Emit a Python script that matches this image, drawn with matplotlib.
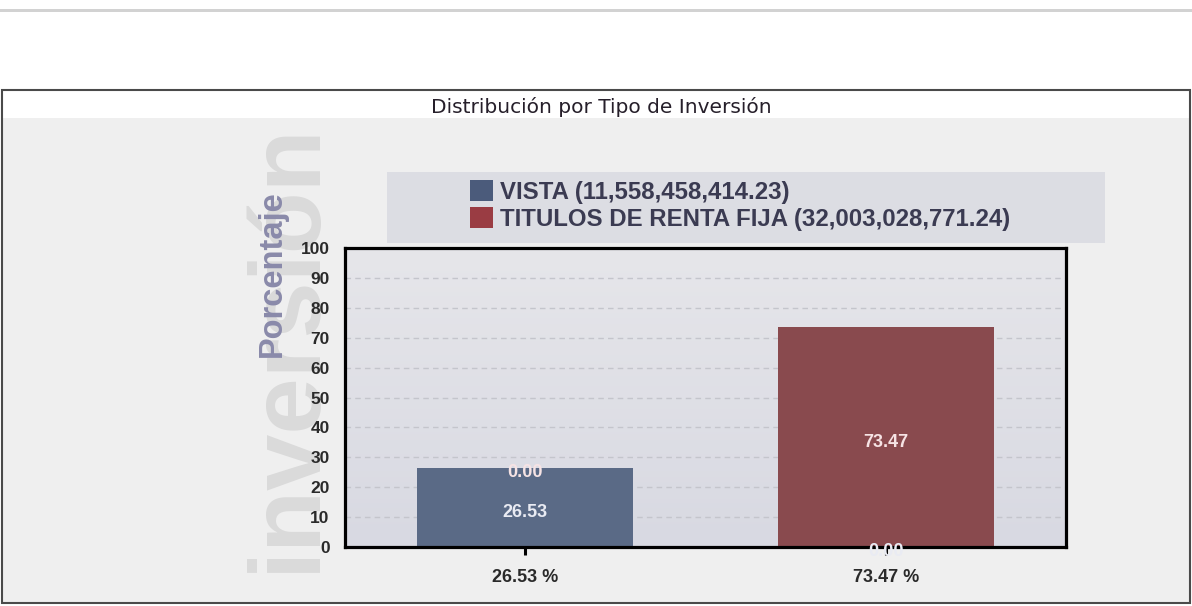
import numpy as np
import matplotlib
matplotlib.use("Agg")
import matplotlib.pyplot as plt
from matplotlib.colors import LinearSegmentedColormap
from matplotlib.patches import Rectangle

# Datos del gráfico
titulo = "Distribución por Tipo de Inversión"
categorias = ["26.53 %", "73.47 %"]
series = ["VISTA (11,558,458,414.23)", "TITULOS DE RENTA FIJA (32,003,028,771.24)"]
vista = [26.53, 0.0]
renta_fija = [0.0, 73.47]
yticks = list(range(0, 101, 10))

# Colores
COLOR_VISTA = "#5a6a86"
COLOR_RENTA = "#894a4e"
LEYENDA_VISTA = "#4b5b7b"
LEYENDA_RENTA = "#9a3c43"

W, H = 1192, 606
fig = plt.figure(figsize=(W / 100, H / 100), dpi=100)
fig.patch.set_facecolor("white")

def fx(px):
    return px / W

def fy(py):
    return 1 - py / H

def caja(x0, y0, x1, y1, **kw):
    # rectángulo en píxeles (origen arriba a la izquierda)
    fig.add_artist(Rectangle((fx(x0), fy(y1)), fx(x1 - x0), (y1 - y0) / H,
                             transform=fig.transFigure, zorder=-10, **kw))

caja(0, 9, W, 12, facecolor="#d2d2d2", edgecolor="none")          # línea superior
caja(3, 118, 1189, 602, facecolor="#efefef", edgecolor="none")    # fondo gris
caja(2, 90, 1190, 603, facecolor="none", edgecolor="#4a4a4a", lw=1.5)  # marco
caja(387, 172, 1105, 243, facecolor="#dcdde3", edgecolor="none")  # fondo leyenda

fig.text(fx(601), fy(107), titulo, ha="center", va="center",
         fontsize=14.5, family="DejaVu Sans", color="#261f2a")

# marca de agua (detrás de todo)
fig.text(fx(288), fy(347), "inversión", rotation=90, ha="center", va="center",
         fontsize=73, fontweight="bold", family="Liberation Sans", color="#dadada", zorder=-5)
fig.text(fx(272), fy(274), "Porcentaje", rotation=90, ha="center", va="center",
         fontsize=23.5, fontweight="bold", family="Liberation Sans", color="#8a8aaa", zorder=-4)

ax = fig.add_axes([fx(345), fy(547), fx(721), 299 / H])
ax.set_zorder(2)
x = np.arange(len(categorias))

# degradado del área de trazado
grad = LinearSegmentedColormap.from_list("g", ["#d8d9e2", "#e6e6ea"])
ax.imshow(np.linspace(0, 1, 100)[:, None], extent=[-0.5, 1.5, 0, 100], origin="lower",
          aspect="auto", cmap=grad, zorder=0)

b1 = ax.bar(x, vista, width=0.6, color=COLOR_VISTA, label=series[0], zorder=3)
b2 = ax.bar(x, renta_fija, width=0.6, bottom=vista, color=COLOR_RENTA, label=series[1], zorder=3)

for cont, col in ((b1, "#e9ebf3"), (b2, "#f6e3e4")):
    anns = ax.bar_label(cont, labels=[f"{v:.2f}" for v in cont.datavalues], label_type="center",
                        color=col, fontsize=13, fontweight="bold", family="Liberation Sans",
                        zorder=6)
    for a in anns:
        a.xyann = (0, -3.5)  # un poco por debajo del centro, como el original

ax.set_xlim(-0.5, 1.5)
ax.set_ylim(0, 100)
ax.set_yticks(yticks)
ax.set_xticks(x)
ax.set_xticklabels(categorias)
ax.set_axisbelow(True)
ax.yaxis.grid(True, color="#c4c5cc", linestyle=(0, (4, 3)), lw=1)
ax.tick_params(axis="y", length=0, pad=11)
ax.tick_params(axis="x", length=6, width=2.2, color="black", pad=10)
for lab in ax.get_xticklabels() + ax.get_yticklabels():
    lab.set_fontweight("bold")
    lab.set_family("Liberation Sans")
    lab.set_color("#2a2a2a")
for lab in ax.get_yticklabels():
    lab.set_fontsize(12.5)
for lab in ax.get_xticklabels():
    lab.set_fontsize(13)
for s in ax.spines.values():
    s.set_linewidth(2.3)
    s.set_color("black")
    s.set_zorder(5)

leg = ax.legend(loc="upper left", bbox_to_anchor=(fx(470), fy(180)), bbox_transform=fig.transFigure,
                frameon=False, prop={"family": "Liberation Sans", "weight": "bold", "size": 17.3},
                handlelength=0.95, handleheight=0.95, handletextpad=0.3, labelspacing=0.15,
                borderpad=0, borderaxespad=0, labelcolor="#3b3b52")
for h, c in zip(leg.legend_handles, [LEYENDA_VISTA, LEYENDA_RENTA]):
    h.set_facecolor(c)

fig.savefig("out.png", dpi=100)
